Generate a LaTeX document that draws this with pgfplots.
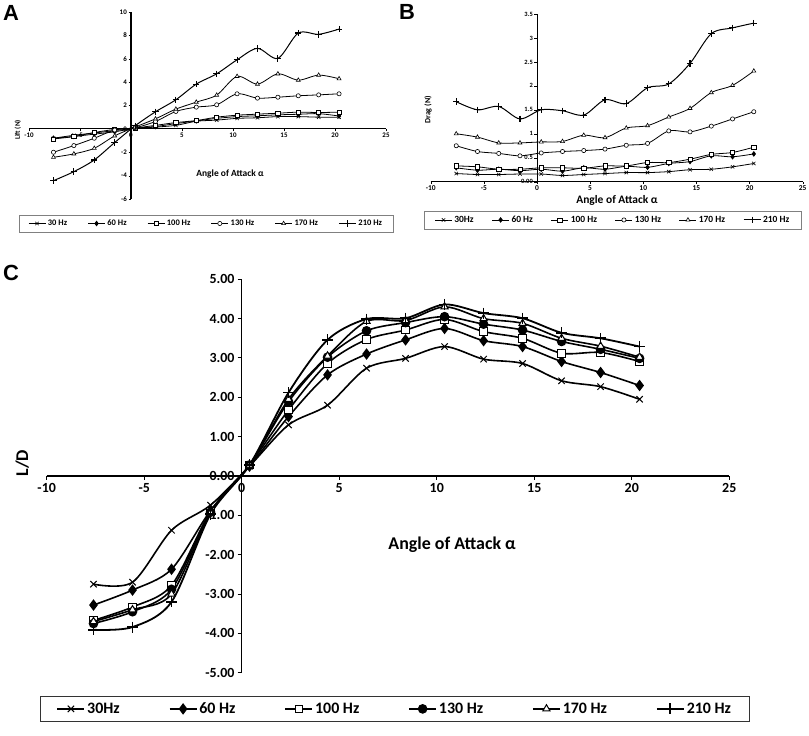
\documentclass[border=0pt]{standalone}
\usepackage{pgfplots}
\pgfplotsset{compat=1.18}
\usepackage{pgfplotstable}
\usepackage{fontspec}
\setmainfont{Carlito}
\newfontfamily\letterfont{Liberation Sans}

\pgfplotstableread{
x f30 f60 f100 f130 f170 f210
-7.6 -0.80 -0.80 -0.86 -2.00 -2.43 -4.43
-5.6 -0.55 -0.65 -0.66 -1.43 -2.14 -3.66
-3.6 -0.35 -0.45 -0.31 -0.80 -1.66 -2.66
-1.6 -0.15 -0.25 -0.05 -0.10 -0.60 -1.17
0.4 0.05 0.05 0.08 0.10 0.15 0.26
2.4 0.15 0.20 0.30 0.63 0.86 1.46
4.4 0.30 0.45 0.54 1.49 1.69 2.49
6.4 0.65 0.68 0.71 1.86 2.29 3.83
8.4 0.75 0.90 1.00 2.06 2.89 4.71
10.4 0.90 1.05 1.17 3.00 4.49 5.91
12.4 0.95 1.12 1.26 2.63 3.83 6.89
14.4 1.05 1.20 1.34 2.71 4.71 6.03
16.4 1.05 1.25 1.43 2.83 4.17 8.20
18.4 1.00 1.30 1.40 2.91 4.60 8.09
20.4 1.00 1.10 1.43 3.00 4.29 8.54
}\dataA

\pgfplotstableread{
x f30 f60 f100 f130 f170 f210
-7.6 0.17 0.29 0.33 0.75 1.00 1.67
-5.6 0.15 0.24 0.31 0.63 0.93 1.50
-3.6 0.15 0.26 0.26 0.59 0.81 1.57
-1.6 0.16 0.23 0.26 0.54 0.81 1.31
0.4 0.16 0.26 0.29 0.60 0.83 1.50
2.4 0.13 0.22 0.29 0.63 0.84 1.48
4.4 0.15 0.29 0.28 0.65 0.97 1.39
6.4 0.17 0.26 0.33 0.68 0.92 1.71
8.4 0.19 0.32 0.33 0.76 1.12 1.63
10.4 0.19 0.30 0.40 0.80 1.17 1.96
12.4 0.21 0.38 0.40 1.06 1.35 2.04
14.4 0.25 0.42 0.47 1.04 1.53 2.47
16.4 0.26 0.54 0.57 1.16 1.86 3.09
18.4 0.31 0.52 0.61 1.31 2.01 3.21
20.4 0.38 0.58 0.72 1.46 2.31 3.31
}\dataB

\pgfplotstableread{
x f30 f60 f100 f130 f170 f210
-7.6 -2.75 -3.28 -3.67 -3.75 -3.70 -3.91
-5.6 -2.70 -2.90 -3.33 -3.45 -3.40 -3.84
-3.6 -1.38 -2.37 -2.78 -2.88 -3.00 -3.20
-1.6 -0.74 -0.88 -0.90 -0.92 -0.94 -0.97
0.4 0.25 0.25 0.28 0.28 0.28 0.28
2.4 1.30 1.51 1.68 1.89 1.95 2.12
4.4 1.80 2.57 2.86 3.02 3.05 3.46
6.4 2.74 3.10 3.47 3.69 3.93 3.99
8.4 2.99 3.46 3.71 3.90 3.95 4.01
10.4 3.29 3.75 3.98 4.05 4.30 4.36
12.4 2.97 3.44 3.67 3.86 4.00 4.14
14.4 2.86 3.29 3.50 3.71 3.88 4.01
16.4 2.42 2.91 3.12 3.42 3.50 3.64
18.4 2.27 2.63 3.14 3.22 3.30 3.50
20.4 1.95 2.30 2.91 2.99 3.02 3.29
}\dataC

\pgfplotsset{
  common/.style={
    scale only axis, axis lines=middle, axis line style={-,black},
    clip=false, hide obscured x ticks=false, hide obscured y ticks=false,
    tick style={black}, tick align=outside,
    legend columns=6, legend cell align=left,
    /pgf/number format/assume math mode=true,
  },
  % small panels
  a30/.style={black, line width=0.8bp, smooth, tension=0.5, mark=x, mark size=2.4bp, mark options={solid, line width=0.6bp}},
  a60/.style={black, line width=0.8bp, smooth, tension=0.5, mark=diamond*, mark size=2.2bp, mark options={solid, fill=black}},
  a100/.style={black, line width=0.8bp, smooth, tension=0.5, mark=square*, mark size=2.1bp, mark options={solid, fill=white, line width=0.6bp}},
  a130/.style={black, line width=0.8bp, smooth, tension=0.5, mark=*, mark size=2.1bp, mark options={solid, fill=white, line width=0.6bp}},
  a170/.style={black, line width=0.8bp, smooth, tension=0.5, mark=triangle*, mark size=2.3bp, mark options={solid, fill=white, line width=0.6bp}},
  a210/.style={black, line width=1.0bp, smooth, tension=0.5, mark=+, mark size=3.2bp, mark options={solid, line width=1.1bp}},
  % big panel
  c30/.style={black, line width=1.6bp, smooth, tension=0.5, mark=x, mark size=4.5bp, mark options={solid, line width=1bp}},
  c60/.style={black, line width=1.6bp, smooth, tension=0.5, mark=diamond*, mark size=4.5bp, mark options={solid, fill=black}},
  c100/.style={black, line width=1.6bp, smooth, tension=0.5, mark=square*, mark size=3.8bp, mark options={solid, fill=white, line width=1bp}},
  c130/.style={black, line width=1.6bp, smooth, tension=0.5, mark=*, mark size=4bp, mark options={solid, fill=black}},
  c170/.style={black, line width=1.6bp, smooth, tension=0.5, mark=triangle*, mark size=4.2bp, mark options={solid, fill=white, line width=1bp}},
  c210/.style={black, line width=1.8bp, smooth, tension=0.5, mark=+, mark size=5.5bp, mark options={solid, line width=1.8bp}},
}

\begin{document}
\begin{tikzpicture}
\useasboundingbox (0,0) rectangle (809bp,736bp);

\node[font=\letterfont\bfseries\fontsize{22}{22}\selectfont] at (11bp,723bp) {A};
\node[font=\letterfont\bfseries\fontsize{22}{22}\selectfont] at (407bp,724bp) {B};
\node[font=\letterfont\bfseries\fontsize{22}{22}\selectfont] at (11bp,463bp) {C};

% ---------------- Panel A
\begin{axis}[common,
  at={(29bp,537bp)}, anchor=south west, width=357bp, height=187bp,
  xmin=-10, xmax=25, ymin=-6, ymax=10,
  xtick={-10,-5,0,5,10,15,20,25}, xticklabels={-10,-5,0,5,10,15,20,25},
  ytick={-6,-4,-2,0,2,4,6,8,10}, yticklabels={-6,-4,-2,0,2,4,6,8,10},
  axis line style={line width=1.1bp},
  major tick length=2.5bp,
  ticklabel style={font=\bfseries\fontsize{7}{8}\selectfont, inner sep=1.5bp},
  xlabel={Angle of Attack α}, ylabel={Lift (N)},
  xlabel style={at={(axis description cs:0.563,0.134)}, anchor=center, font=\bfseries\fontsize{9.5}{10}\selectfont},
  ylabel style={at={(axis description cs:-0.031,0.369)}, anchor=center, rotate=90, font=\bfseries\fontsize{7}{8}\selectfont},
  legend style={at={(axis description cs:0.496,-0.131)}, anchor=center, draw=gray, line width=0.6bp,
    font=\bfseries\fontsize{8.5}{9}\selectfont, inner xsep=9bp, inner ysep=3bp,
    /tikz/every even column/.append style={column sep=18.5bp}},
  legend image code/.code={\draw[mark repeat=2,mark phase=2,#1] plot coordinates {(0bp,0bp) (8.5bp,0bp) (17bp,0bp)};},
]
\addplot[a30] table[x=x,y=f30]{\dataA};
\addplot[a60] table[x=x,y=f60]{\dataA};
\addplot[a100] table[x=x,y=f100]{\dataA};
\addplot[a130] table[x=x,y=f130]{\dataA};
\addplot[a170] table[x=x,y=f170]{\dataA};
\addplot[a210] table[x=x,y=f210]{\dataA};
\legend{30 Hz, 60 Hz, 100 Hz, 130 Hz, 170 Hz, 210 Hz}
\end{axis}

% ---------------- Panel B
\begin{axis}[common,
  at={(430.7bp,554.3bp)}, anchor=south west, width=372bp, height=167.7bp,
  xmin=-10, xmax=25, ymin=0, ymax=3.5,
  xtick={-10,-5,0,5,10,15,20,25}, xticklabels={-10,-5,0,5,10,15,20,25},
  ytick={0,0.5,1,1.5,2,2.5,3,3.5}, yticklabels={0.00,0.5,1,1.5,2,2.5,3,3.5},
  axis line style={line width=0.9bp},
  major tick length=2.5bp,
  xticklabel style={font=\bfseries\fontsize{7.5}{8}\selectfont, inner sep=1.5bp},
  yticklabel style={font=\bfseries\fontsize{6.5}{7}\selectfont, inner sep=1.5bp},
  xlabel={Angle of Attack α}, ylabel={Drag (N)},
  xlabel style={at={(axis description cs:0.501,-0.113)}, anchor=center, font=\bfseries\fontsize{11.5}{12}\selectfont},
  ylabel style={at={(axis description cs:-0.007,0.428)}, anchor=center, rotate=90, font=\bfseries\fontsize{8}{9}\selectfont},
  legend style={at={(axis description cs:0.49,-0.228)}, anchor=center, draw=gray, line width=0.6bp,
    font=\bfseries\fontsize{9.5}{10}\selectfont, inner xsep=10bp, inner ysep=3bp,
    /tikz/every even column/.append style={column sep=16bp}},
  legend image code/.code={\draw[mark repeat=2,mark phase=2,#1] plot coordinates {(0bp,0bp) (8.5bp,0bp) (17bp,0bp)};},
]
\addplot[a30] table[x=x,y=f30]{\dataB};
\addplot[a60] table[x=x,y=f60]{\dataB};
\addplot[a100] table[x=x,y=f100]{\dataB};
\addplot[a130] table[x=x,y=f130]{\dataB};
\addplot[a170] table[x=x,y=f170]{\dataB};
\addplot[a210] table[x=x,y=f210]{\dataB};
\legend{30Hz, 60 Hz, 100 Hz, 130 Hz, 170 Hz, 210 Hz}
\end{axis}

% ---------------- Panel C
\begin{axis}[common,
  at={(46.7bp,63.3bp)}, anchor=south west, width=682.6bp, height=393.4bp,
  xmin=-10, xmax=25, ymin=-5, ymax=5,
  xtick={-10,-5,0,5,10,15,20,25}, xticklabels={-10,-5,0,5,10,15,20,25},
  ytick={-5,-4,-3,-2,-1,0,1,2,3,4,5},
  yticklabels={-5.00,-4.00,-3.00,-2.00,-1.00,0.00,1.00,2.00,3.00,4.00,5.00},
  axis line style={line width=1.3bp},
  major tick length=4bp, tick style={line width=1bp},
  ticklabel style={font=\bfseries\fontsize{14}{15}\selectfont, inner sep=3bp},
  xlabel={Angle of Attack α}, ylabel={L/D},
  xlabel style={at={(axis description cs:0.594,0.325)}, anchor=center, font=\bfseries\fontsize{18}{19}\selectfont},
  ylabel style={at={(axis description cs:-0.036,0.533)}, anchor=center, rotate=90, font=\bfseries\fontsize{18}{19}\selectfont},
  legend style={at={(axis description cs:0.510,-0.092)}, anchor=center, draw=black!80, line width=0.9bp,
    font=\bfseries\fontsize{16}{17}\selectfont, inner xsep=16bp, inner ysep=4bp,
    /tikz/every even column/.append style={column sep=47bp}},
  legend image code/.code={\draw[mark repeat=2,mark phase=2,#1] plot coordinates {(0bp,0bp) (13.5bp,0bp) (27bp,0bp)};},
]
\addplot[c30] table[x=x,y=f30]{\dataC};
\addplot[c60] table[x=x,y=f60]{\dataC};
\addplot[c100] table[x=x,y=f100]{\dataC};
\addplot[c130] table[x=x,y=f130]{\dataC};
\addplot[c170] table[x=x,y=f170]{\dataC};
\addplot[c210] table[x=x,y=f210]{\dataC};
\legend{30Hz, 60 Hz, 100 Hz, 130 Hz, 170 Hz, 210 Hz}
\end{axis}
\end{tikzpicture}
\end{document}
